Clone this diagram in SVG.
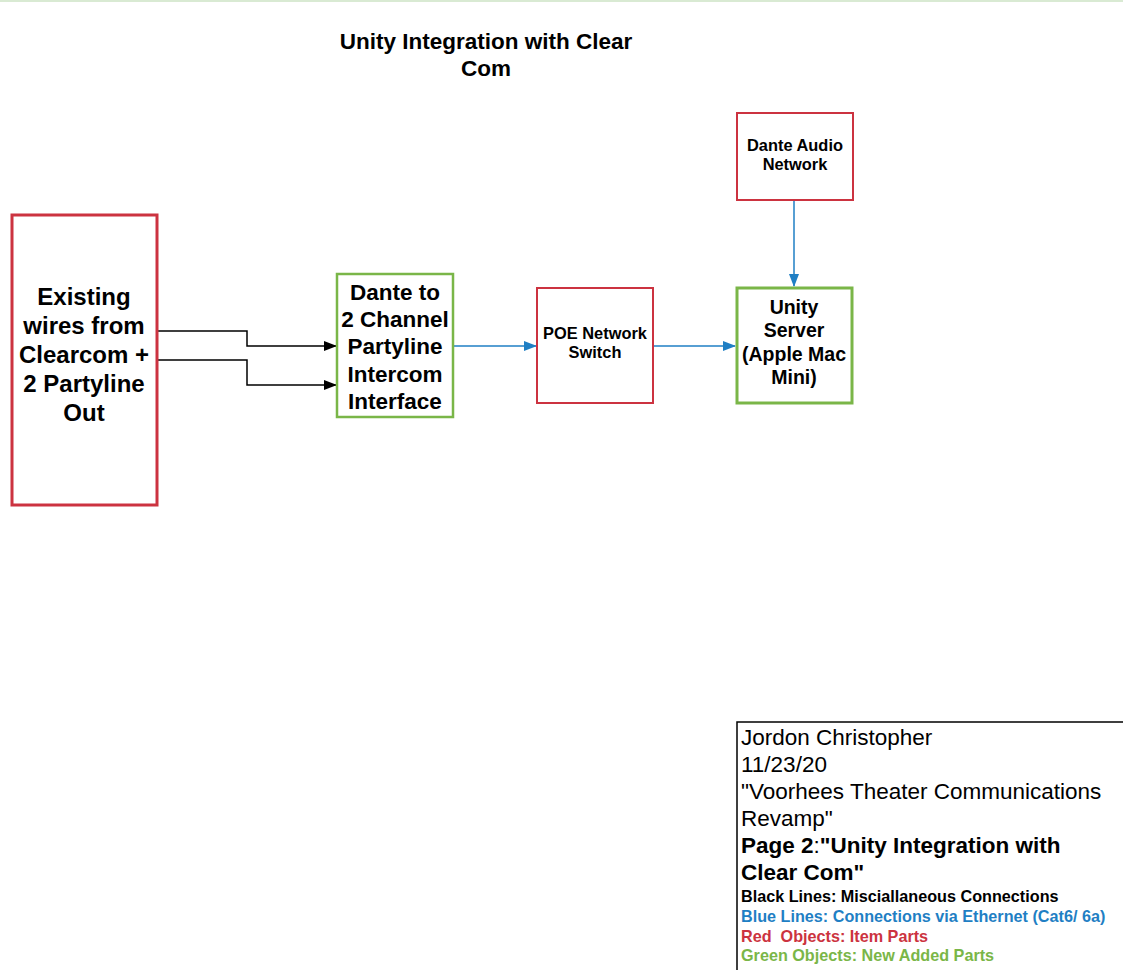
<svg xmlns="http://www.w3.org/2000/svg" width="1123" height="970" viewBox="0 0 1123 970">
<style>
text{font-family:"Liberation Sans",Arial,sans-serif;font-weight:bold;fill:#000;text-anchor:middle}
.red{fill:#fff;stroke:#cc3340}
.green{fill:#fff;stroke:#7ab648}
.blk{fill:none;stroke:#000;stroke-width:1.5}
.blu{fill:none;stroke:#1f7fc4;stroke-width:1.5}
text.leg{text-anchor:start}
text.reg,tspan.reg{font-weight:normal}
</style>
<defs>
<marker id="ab" markerWidth="14" markerHeight="10" refX="12" refY="5" orient="auto" markerUnits="userSpaceOnUse"><path d="M0,0 L13,5 L0,10 Z" fill="#000"/></marker>
<marker id="au" markerWidth="14" markerHeight="10" refX="12" refY="5" orient="auto" markerUnits="userSpaceOnUse"><path d="M0,0 L13,5 L0,10 Z" fill="#1f7fc4"/></marker>
</defs>
<rect x="0" y="0" width="1123" height="970" fill="#fff"/>
<rect x="0" y="0" width="1123" height="2" fill="#d9ead3"/>
<g id="title">
<text x="486" y="49" font-size="22.5">Unity Integration with Clear</text>
<text x="486" y="76" font-size="22.5">Com</text>
</g>
<g id="connectors">
<path class="blk" d="M157,331 H247 V346 H336" marker-end="url(#ab)"/>
<path class="blk" d="M157,360 H247 V385 H336" marker-end="url(#ab)"/>
<path class="blu" d="M453,346 H536" marker-end="url(#au)"/>
<path class="blu" d="M653,346 H735" marker-end="url(#au)"/>
<path class="blu" d="M794,200 V286" marker-end="url(#au)"/>
</g>
<g id="existing">
<rect class="red" x="12" y="215" width="145" height="290" stroke-width="3"/>
<text x="84" y="305" font-size="24">Existing</text>
<text x="84" y="334" font-size="24">wires from</text>
<text x="84" y="363" font-size="24">Clearcom +</text>
<text x="84" y="392" font-size="24">2 Partyline</text>
<text x="84" y="421" font-size="24">Out</text>
</g>
<g id="dante-interface">
<rect class="green" x="337" y="274" width="116" height="143" stroke-width="2.5"/>
<text x="395" y="300" font-size="22.5">Dante to</text>
<text x="395" y="327" font-size="22.5">2 Channel</text>
<text x="395" y="354" font-size="22.5">Partyline</text>
<text x="395" y="382" font-size="22.5">Intercom</text>
<text x="395" y="409" font-size="22.5">Interface</text>
</g>
<g id="poe-switch">
<rect class="red" x="537" y="288" width="116" height="115" stroke-width="2"/>
<text x="595" y="339" font-size="16.4">POE Network</text>
<text x="595" y="358" font-size="16.4">Switch</text>
</g>
<g id="unity-server">
<rect class="green" x="737" y="288" width="115" height="115" stroke-width="3"/>
<text x="794" y="314" font-size="19.5">Unity</text>
<text x="794" y="337" font-size="19.5">Server</text>
<text x="794" y="361" font-size="19.5">(Apple Mac</text>
<text x="794" y="384" font-size="19.5">Mini)</text>
</g>
<g id="dante-audio">
<rect class="red" x="737" y="113" width="116" height="87" stroke-width="2"/>
<text x="795" y="151" font-size="16.4">Dante Audio</text>
<text x="795" y="170" font-size="16.4">Network</text>
</g>
<g id="legend">
<rect x="737" y="722" width="400" height="260" fill="#fff" stroke="#000" stroke-width="1.5"/>
<text class="leg reg" x="741" y="745" font-size="22.5">Jordon Christopher</text>
<text class="leg reg" x="741" y="772" font-size="22.5">11/23/20</text>
<text class="leg reg" x="741" y="799" font-size="22.5">"Voorhees Theater Communications</text>
<text class="leg reg" x="741" y="826" font-size="22.5">Revamp"</text>
<text class="leg" x="741" y="853" font-size="22.5">Page 2<tspan class="reg">:</tspan>"Unity Integration with</text>
<text class="leg" x="741" y="880" font-size="22.5">Clear Com"</text>
<text class="leg" x="741" y="902" font-size="16.2">Black Lines: Misciallaneous Connections</text>
<text class="leg" x="741" y="922" font-size="16.2" style="fill:#1f7fc4">Blue Lines: Connections via Ethernet (Cat6/ 6a)</text>
<text class="leg" x="741" y="942" font-size="16.2" style="fill:#cc3340;white-space:pre">Red  Objects: Item Parts</text>
<text class="leg" x="741" y="961" font-size="16.2" style="fill:#7ab648">Green Objects: New Added Parts</text>
</g>
</svg>
